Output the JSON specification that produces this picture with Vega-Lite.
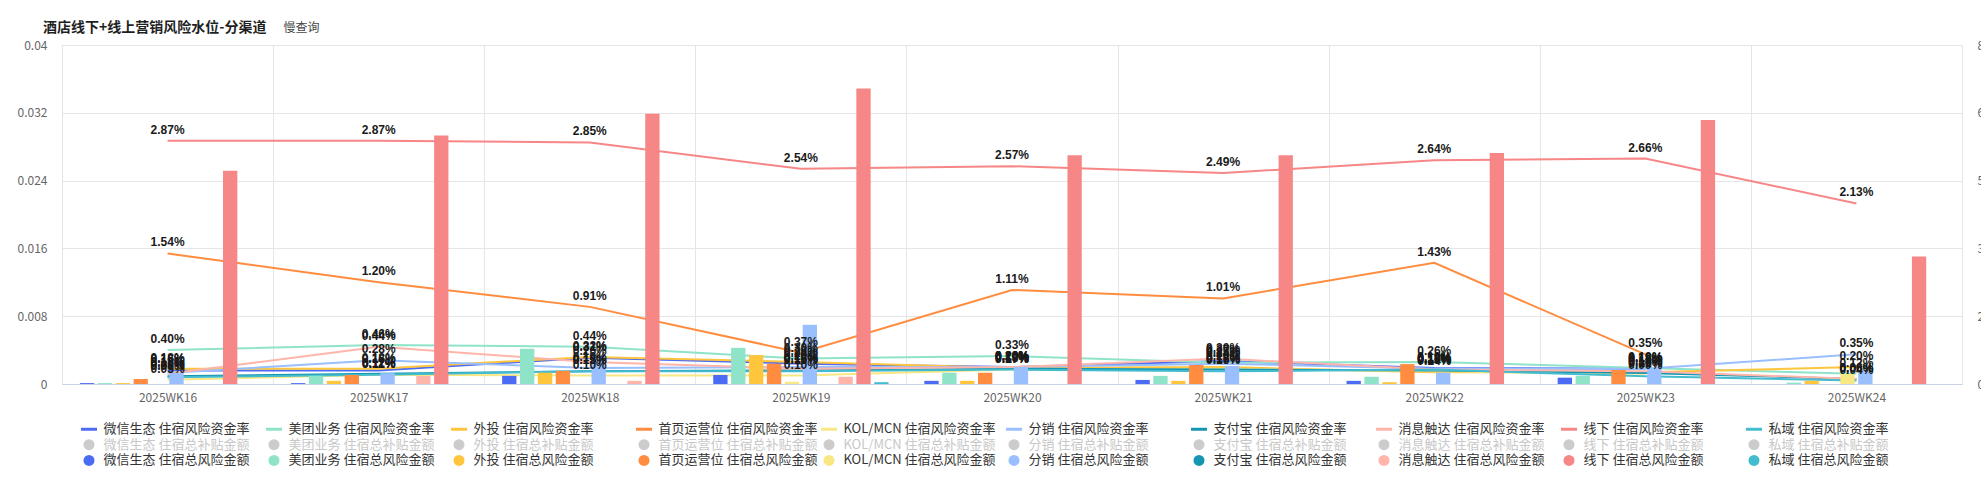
{
  "$schema": "https://vega.github.io/schema/vega-lite/v6.json",
  "width": 1900,
  "height": 339,
  "autosize": {"type": "none"},
  "padding": {"left": 62, "top": 45, "right": 19, "bottom": 97},
  "background": "#ffffff",
  "config": {
    "font": "Noto Sans CJK SC",
    "view": {"stroke": "#e6e6e6"},
    "axis": {"labelFont": "Noto Sans CJK SC"}
  },
  "title": {
    "text": "酒店线下+线上营销风险水位-分渠道",
    "anchor": "start",
    "frame": "group",
    "dx": -19,
    "offset": -14,
    "font": "Noto Sans CJK SC",
    "fontSize": 14,
    "fontWeight": "bold",
    "color": "#1f1f1f"
  },
  "datasets": {
    "main": [
      {"w": "2025WK16", "c": "微信生态", "r": 0.0016, "a": 0.02},
      {"w": "2025WK16", "c": "美团业务", "r": 0.0040, "a": 0.02},
      {"w": "2025WK16", "c": "外投", "r": 0.0018, "a": 0.02},
      {"w": "2025WK16", "c": "首页运营位", "r": 0.0154, "a": 0.11},
      {"w": "2025WK16", "c": "KOL/MCN", "r": 0.0005, "a": 0},
      {"w": "2025WK16", "c": "分销", "r": 0.0013, "a": 0.25},
      {"w": "2025WK16", "c": "支付宝", "r": 0.0009, "a": 0},
      {"w": "2025WK16", "c": "消息触达", "r": 0.0012, "a": 0},
      {"w": "2025WK16", "c": "线下", "r": 0.0287, "a": 4.72},
      {"w": "2025WK16", "c": "私域", "r": 0.0008, "a": 0},
      {"w": "2025WK17", "c": "微信生态", "r": 0.0016, "a": 0.02},
      {"w": "2025WK17", "c": "美团业务", "r": 0.0046, "a": 0.18},
      {"w": "2025WK17", "c": "外投", "r": 0.0018, "a": 0.07},
      {"w": "2025WK17", "c": "首页运营位", "r": 0.0120, "a": 0.20},
      {"w": "2025WK17", "c": "KOL/MCN", "r": 0.0011, "a": 0},
      {"w": "2025WK17", "c": "分销", "r": 0.0028, "a": 0.24},
      {"w": "2025WK17", "c": "支付宝", "r": 0.0012, "a": 0},
      {"w": "2025WK17", "c": "消息触达", "r": 0.0044, "a": 0.18},
      {"w": "2025WK17", "c": "线下", "r": 0.0287, "a": 5.5},
      {"w": "2025WK17", "c": "私域", "r": 0.0011, "a": 0},
      {"w": "2025WK18", "c": "微信生态", "r": 0.0031, "a": 0.18},
      {"w": "2025WK18", "c": "美团业务", "r": 0.0044, "a": 0.78},
      {"w": "2025WK18", "c": "外投", "r": 0.0032, "a": 0.25},
      {"w": "2025WK18", "c": "首页运营位", "r": 0.0091, "a": 0.29},
      {"w": "2025WK18", "c": "KOL/MCN", "r": 0.0010, "a": 0},
      {"w": "2025WK18", "c": "分销", "r": 0.0019, "a": 0.62},
      {"w": "2025WK18", "c": "支付宝", "r": 0.0015, "a": 0},
      {"w": "2025WK18", "c": "消息触达", "r": 0.0026, "a": 0.07},
      {"w": "2025WK18", "c": "线下", "r": 0.0285, "a": 5.98},
      {"w": "2025WK18", "c": "私域", "r": 0.0015, "a": 0},
      {"w": "2025WK19", "c": "微信生态", "r": 0.0024, "a": 0.20},
      {"w": "2025WK19", "c": "美团业务", "r": 0.0030, "a": 0.80},
      {"w": "2025WK19", "c": "外投", "r": 0.0026, "a": 0.64},
      {"w": "2025WK19", "c": "首页运营位", "r": 0.0037, "a": 0.45},
      {"w": "2025WK19", "c": "KOL/MCN", "r": 0.0010, "a": 0.05},
      {"w": "2025WK19", "c": "分销", "r": 0.0020, "a": 1.31},
      {"w": "2025WK19", "c": "支付宝", "r": 0.0016, "a": 0},
      {"w": "2025WK19", "c": "消息触达", "r": 0.0018, "a": 0.16},
      {"w": "2025WK19", "c": "线下", "r": 0.0254, "a": 6.54},
      {"w": "2025WK19", "c": "私域", "r": 0.0015, "a": 0.04},
      {"w": "2025WK20", "c": "微信生态", "r": 0.0020, "a": 0.07},
      {"w": "2025WK20", "c": "美团业务", "r": 0.0033, "a": 0.25},
      {"w": "2025WK20", "c": "外投", "r": 0.0019, "a": 0.07},
      {"w": "2025WK20", "c": "首页运营位", "r": 0.0111, "a": 0.25},
      {"w": "2025WK20", "c": "KOL/MCN", "r": 0.0017, "a": 0},
      {"w": "2025WK20", "c": "分销", "r": 0.0020, "a": 0.38},
      {"w": "2025WK20", "c": "支付宝", "r": 0.0018, "a": 0},
      {"w": "2025WK20", "c": "消息触达", "r": 0.0020, "a": 0},
      {"w": "2025WK20", "c": "线下", "r": 0.0257, "a": 5.06},
      {"w": "2025WK20", "c": "私域", "r": 0.0017, "a": 0},
      {"w": "2025WK21", "c": "微信生态", "r": 0.0027, "a": 0.09},
      {"w": "2025WK21", "c": "美团业务", "r": 0.0025, "a": 0.18},
      {"w": "2025WK21", "c": "外投", "r": 0.0020, "a": 0.07},
      {"w": "2025WK21", "c": "首页运营位", "r": 0.0101, "a": 0.42},
      {"w": "2025WK21", "c": "KOL/MCN", "r": 0.0018, "a": 0},
      {"w": "2025WK21", "c": "分销", "r": 0.0024, "a": 0.40},
      {"w": "2025WK21", "c": "支付宝", "r": 0.0017, "a": 0},
      {"w": "2025WK21", "c": "消息触达", "r": 0.0030, "a": 0},
      {"w": "2025WK21", "c": "线下", "r": 0.0249, "a": 5.06},
      {"w": "2025WK21", "c": "私域", "r": 0.0015, "a": 0},
      {"w": "2025WK22", "c": "微信生态", "r": 0.0019, "a": 0.07},
      {"w": "2025WK22", "c": "美团业务", "r": 0.0026, "a": 0.16},
      {"w": "2025WK22", "c": "外投", "r": 0.0014, "a": 0.04},
      {"w": "2025WK22", "c": "首页运营位", "r": 0.0143, "a": 0.44},
      {"w": "2025WK22", "c": "KOL/MCN", "r": 0.0015, "a": 0},
      {"w": "2025WK22", "c": "分销", "r": 0.0018, "a": 0.25},
      {"w": "2025WK22", "c": "支付宝", "r": 0.0016, "a": 0},
      {"w": "2025WK22", "c": "消息触达", "r": 0.0017, "a": 0},
      {"w": "2025WK22", "c": "线下", "r": 0.0264, "a": 5.11},
      {"w": "2025WK22", "c": "私域", "r": 0.0017, "a": 0},
      {"w": "2025WK23", "c": "微信生态", "r": 0.0018, "a": 0.14},
      {"w": "2025WK23", "c": "美团业务", "r": 0.0019, "a": 0.18},
      {"w": "2025WK23", "c": "外投", "r": 0.0014, "a": 0},
      {"w": "2025WK23", "c": "首页运营位", "r": 0.0035, "a": 0.31},
      {"w": "2025WK23", "c": "KOL/MCN", "r": 0.0012, "a": 0},
      {"w": "2025WK23", "c": "分销", "r": 0.0018, "a": 0.36},
      {"w": "2025WK23", "c": "支付宝", "r": 0.0013, "a": 0},
      {"w": "2025WK23", "c": "消息触达", "r": 0.0015, "a": 0},
      {"w": "2025WK23", "c": "线下", "r": 0.0266, "a": 5.84},
      {"w": "2025WK23", "c": "私域", "r": 0.0009, "a": 0},
      {"w": "2025WK24", "c": "微信生态", "r": null, "a": 0},
      {"w": "2025WK24", "c": "美团业务", "r": 0.0012, "a": 0.03},
      {"w": "2025WK24", "c": "外投", "r": 0.0020, "a": 0.07},
      {"w": "2025WK24", "c": "首页运营位", "r": null, "a": 0},
      {"w": "2025WK24", "c": "KOL/MCN", "r": null, "a": 0.22},
      {"w": "2025WK24", "c": "分销", "r": 0.0035, "a": 0.31},
      {"w": "2025WK24", "c": "支付宝", "r": 0.0006, "a": 0},
      {"w": "2025WK24", "c": "消息触达", "r": 0.0006, "a": 0},
      {"w": "2025WK24", "c": "线下", "r": 0.0213, "a": 2.82},
      {"w": "2025WK24", "c": "私域", "r": 0.0004, "a": 0}
    ]
  },
  "layer": [
    {
      "data": {"name": "main"},
      "mark": {"type": "line", "strokeWidth": 2},
      "encoding": {
        "x": {
          "field": "w", "type": "ordinal",
          "scale": {"paddingInner": 0, "paddingOuter": 0},
          "axis": {
            "title": null, "grid": true, "tickBand": "extent", "gridColor": "#e6e6e6",
            "ticks": false, "tickSize": 0, "domainColor": "#c9d2e6", "labelColor": "#666666",
            "labelFontSize": 12, "labelPadding": 8, "labelAngle": 0
          }
        },
        "y": {
          "field": "r", "type": "quantitative",
          "scale": {"domain": [0, 0.04], "nice": false},
          "axis": {
            "orient": "left", "values": [0, 0.008, 0.016, 0.024, 0.032, 0.04],
            "format": "~g", "grid": true, "gridColor": "#e6e6e6", "ticks": false, "domain": false,
            "labelPadding": 15, "labelColor": "#666666", "labelFontSize": 12,
            "title": "慢查询", "titleX": 221, "titleY": -18, "titleAngle": 0, "titleAlign": "left",
            "titleBaseline": "middle", "titleFontWeight": "normal", "titleFontSize": 12,
            "titleColor": "#444444", "titleFont": "Noto Sans CJK SC"
          }
        },
        "color": {
          "field": "c", "type": "nominal", "legend": null,
          "scale": {
            "domain": ["微信生态", "美团业务", "外投", "首页运营位", "KOL/MCN", "分销", "支付宝", "消息触达", "线下", "私域"],
            "range": ["#4B6BF5", "#8FE3C9", "#FFC53D", "#FF8C3F", "#F9E784", "#99BFFF", "#1596B0", "#FFB5AA", "#F78686", "#44BCD0"]
          }
        }
      }
    },
    {
      "data": {"name": "main"},
      "mark": {"type": "bar"},
      "encoding": {
        "x": {"field": "w", "type": "ordinal"},
        "xOffset": {
          "field": "c", "type": "nominal",
          "scale": {
            "domain": ["微信生态", "美团业务", "外投", "首页运营位", "KOL/MCN", "分销", "支付宝", "消息触达", "线下", "私域"],
            "paddingInner": 0.2, "paddingOuter": 3.5
          }
        },
        "y": {
          "field": "a", "type": "quantitative",
          "scale": {"domain": [0, 7.5], "nice": false},
          "axis": {
            "orient": "right", "title": null, "values": [0, 1.5, 3, 4.5, 6, 7.5],
            "grid": false, "ticks": false, "domain": false,
            "labelPadding": 15, "labelColor": "#666666", "labelFontSize": 12
          }
        },
        "color": {
          "field": "c", "type": "nominal", "legend": null,
          "scale": {
            "domain": ["微信生态", "美团业务", "外投", "首页运营位", "KOL/MCN", "分销", "支付宝", "消息触达", "线下", "私域"],
            "range": ["#4B6BF5", "#8FE3C9", "#FFC53D", "#FF8C3F", "#F9E784", "#99BFFF", "#1596B0", "#FFB5AA", "#F78686", "#44BCD0"]
          }
        }
      }
    },
    {
      "data": {"name": "main"},
      "mark": {"type": "text", "dy": -11, "baseline": "middle", "fontSize": 12, "fontWeight": "bold", "font": "Liberation Sans", "color": "#1a1a1a"},
      "encoding": {
        "x": {"field": "w", "type": "ordinal"},
        "y": {"field": "r", "type": "quantitative", "scale": {"domain": [0, 0.04], "nice": false}, "axis": null},
        "text": {"field": "r", "type": "quantitative", "format": ".2%"}
      }
    },
    {
      "data": {"values": []},
      "mark": {"type": "point", "filled": true},
      "encoding": {
        "color": {
          "field": "s", "type": "nominal",
          "scale": {
            "domain": [
              "微信生态 住宿风险资金率", "美团业务 住宿风险资金率", "外投 住宿风险资金率", "首页运营位 住宿风险资金率", "KOL/MCN 住宿风险资金率", "分销 住宿风险资金率", "支付宝 住宿风险资金率", "消息触达 住宿风险资金率", "线下 住宿风险资金率", "私域 住宿风险资金率",
              "微信生态 住宿总补贴金额", "美团业务 住宿总补贴金额", "外投 住宿总补贴金额", "首页运营位 住宿总补贴金额", "KOL/MCN 住宿总补贴金额", "分销 住宿总补贴金额", "支付宝 住宿总补贴金额", "消息触达 住宿总补贴金额", "线下 住宿总补贴金额", "私域 住宿总补贴金额",
              "微信生态 住宿总风险金额", "美团业务 住宿总风险金额", "外投 住宿总风险金额", "首页运营位 住宿总风险金额", "KOL/MCN 住宿总风险金额", "分销 住宿总风险金额", "支付宝 住宿总风险金额", "消息触达 住宿总风险金额", "线下 住宿总风险金额", "私域 住宿总风险金额"
            ],
            "range": [
              "#4B6BF5", "#8FE3C9", "#FFC53D", "#FF8C3F", "#F9E784", "#99BFFF", "#1596B0", "#FFB5AA", "#F78686", "#44BCD0",
              "#cccccc", "#cccccc", "#cccccc", "#cccccc", "#cccccc", "#cccccc", "#cccccc", "#cccccc", "#cccccc", "#cccccc",
              "#4B6BF5", "#8FE3C9", "#FFC53D", "#FF8C3F", "#F9E784", "#99BFFF", "#1596B0", "#FFB5AA", "#F78686", "#44BCD0"
            ]
          },
          "legend": {
            "title": null, "orient": "none", "legendX": 20.5, "legendY": 377.5,
            "direction": "horizontal", "columns": 10, "gridAlign": "all", "columnPadding": 3, "rowPadding": 1.7,
            "symbolSize": 121, "symbolStrokeWidth": 0, "symbolOpacity": 1,
            "labelFont": "Noto Sans CJK SC", "labelFontSize": 13, "labelOffset": 8, "labelLimit": 400, "labelColor": "#333333",
            "encode": {"labels": {"update": {"fill": {"signal": "indexof(datum.label, '补贴') >= 0 ? '#c8c8c8' : '#333333'"}}}}
          }
        },
        "shape": {
          "field": "s", "type": "nominal",
          "scale": {
            "domain": [
              "微信生态 住宿风险资金率", "美团业务 住宿风险资金率", "外投 住宿风险资金率", "首页运营位 住宿风险资金率", "KOL/MCN 住宿风险资金率", "分销 住宿风险资金率", "支付宝 住宿风险资金率", "消息触达 住宿风险资金率", "线下 住宿风险资金率", "私域 住宿风险资金率",
              "微信生态 住宿总补贴金额", "美团业务 住宿总补贴金额", "外投 住宿总补贴金额", "首页运营位 住宿总补贴金额", "KOL/MCN 住宿总补贴金额", "分销 住宿总补贴金额", "支付宝 住宿总补贴金额", "消息触达 住宿总补贴金额", "线下 住宿总补贴金额", "私域 住宿总补贴金额",
              "微信生态 住宿总风险金额", "美团业务 住宿总风险金额", "外投 住宿总风险金额", "首页运营位 住宿总风险金额", "KOL/MCN 住宿总风险金额", "分销 住宿总风险金额", "支付宝 住宿总风险金额", "消息触达 住宿总风险金额", "线下 住宿总风险金额", "私域 住宿总风险金额"
            ],
            "range": [
              "M-1.45,-0.27L1.45,-0.27L1.45,0.27L-1.45,0.27Z", "M-1.45,-0.27L1.45,-0.27L1.45,0.27L-1.45,0.27Z", "M-1.45,-0.27L1.45,-0.27L1.45,0.27L-1.45,0.27Z", "M-1.45,-0.27L1.45,-0.27L1.45,0.27L-1.45,0.27Z", "M-1.45,-0.27L1.45,-0.27L1.45,0.27L-1.45,0.27Z", "M-1.45,-0.27L1.45,-0.27L1.45,0.27L-1.45,0.27Z", "M-1.45,-0.27L1.45,-0.27L1.45,0.27L-1.45,0.27Z", "M-1.45,-0.27L1.45,-0.27L1.45,0.27L-1.45,0.27Z", "M-1.45,-0.27L1.45,-0.27L1.45,0.27L-1.45,0.27Z", "M-1.45,-0.27L1.45,-0.27L1.45,0.27L-1.45,0.27Z",
              "circle", "circle", "circle", "circle", "circle", "circle", "circle", "circle", "circle", "circle",
              "circle", "circle", "circle", "circle", "circle", "circle", "circle", "circle", "circle", "circle"
            ]
          },
          "legend": {
            "title": null, "orient": "none", "legendX": 20.5, "legendY": 377.5,
            "direction": "horizontal", "columns": 10, "gridAlign": "all", "columnPadding": 3, "rowPadding": 1.7,
            "symbolSize": 121, "symbolStrokeWidth": 0, "symbolOpacity": 1,
            "labelFont": "Noto Sans CJK SC", "labelFontSize": 13, "labelOffset": 8, "labelLimit": 400, "labelColor": "#333333",
            "encode": {"labels": {"update": {"fill": {"signal": "indexof(datum.label, '补贴') >= 0 ? '#c8c8c8' : '#333333'"}}}}
          }
        }
      }
    }
  ],
  "resolve": {"scale": {"y": "independent", "color": "independent", "shape": "independent"}, "axis": {"y": "independent"}}
}
